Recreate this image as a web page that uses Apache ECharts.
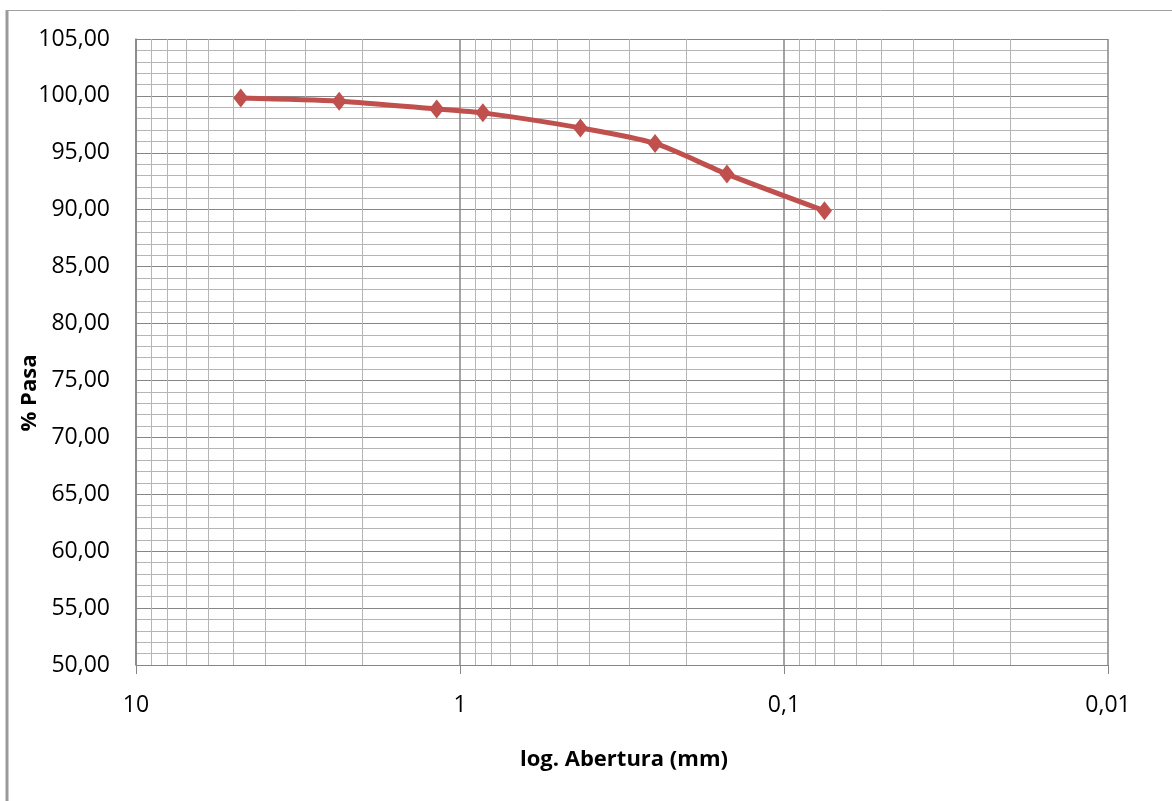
<!DOCTYPE html>
<html>
<head>
<meta charset="utf-8">
<script src="https://cdn.jsdelivr.net/npm/echarts@6/dist/echarts.min.js"></script>
<style>
    html, body { margin: 0; padding: 0; background: #fff; }
    #chart { width: 1172px; height: 801px; }
</style>
</head>
<body>
<div id="chart"></div>
<script>
// sieve openings (mm) and percent passing
const aberturas = [4.75, 2.36, 1.18, 0.85, 0.425, 0.25, 0.15, 0.075];
const pasa = [99.82, 99.54, 98.86, 98.51, 97.19, 95.82, 93.13, 89.91];

const xTicks = [10, 1, 0.1, 0.01];
const xTickLabels = ['10', '1', '0,1', '0,01'];
// log minor gridlines (2..9 of each decade)
const xMinorGrid = [9, 8, 7, 6, 5, 4, 3, 2,
    0.9, 0.8, 0.7, 0.6, 0.5, 0.4, 0.3, 0.2,
    0.09, 0.08, 0.07, 0.06, 0.05, 0.04, 0.03, 0.02];
const yMin = 50, yMax = 105, yStep = 5;

const font = '"Open Sans", "Noto Sans", sans-serif';
const major = '#868686';
const minor = '#b5b5b5';

let mycharts = echarts.init(document.getElementById('chart'));
let option = {
    animation: false,
    grid: {
        left: 136,
        right: 64,
        top: 39,
        bottom: 136
    },
    xAxis: {
        type: 'log',
        logBase: 10,
        min: 0.01,
        max: 10,
        inverse: true,
        axisLine: { show: true, lineStyle: { color: major, width: 1 } },
        axisTick: { show: true, length: 9, lineStyle: { color: major } },
        axisLabel: {
            margin: 29,
            fontFamily: font,
            fontSize: 23,
            color: '#000',
            formatter: function (v) {
                for (let i = 0; i < xTicks.length; i++) {
                    if (Math.abs(Math.log10(v) - Math.log10(xTicks[i])) < 1e-6) return xTickLabels[i];
                }
                return '';
            }
        },
        splitLine: { show: true, lineStyle: { color: major, width: 1.5 } }
    },
    yAxis: {
        type: 'value',
        min: yMin,
        max: yMax,
        interval: yStep,
        axisLine: { show: true, lineStyle: { color: major, width: 1.5 } },
        axisTick: { show: false },
        axisLabel: {
            margin: 26,
            fontFamily: font,
            fontSize: 23,
            color: '#000',
            formatter: function (v) {
                return v.toFixed(2).replace('.', ',');
            }
        },
        splitLine: { show: true, lineStyle: { color: major, width: 1.2 } },
        minorTick: { show: false, splitNumber: 5 },
        minorSplitLine: { show: true, lineStyle: { color: minor, width: 1 } }
    },
    graphic: [
        { type: 'line', shape: { x1: 7, y1: 10, x2: 7, y2: 801 }, style: { stroke: '#9a9a9a', lineWidth: 3 } },
        { type: 'line', shape: { x1: 6, y1: 10.5, x2: 1172, y2: 10.5 }, style: { stroke: '#a0a0a0', lineWidth: 1 } },
        {
            type: 'text', x: 624, y: 760,
            style: {
                text: 'log. Abertura (mm)', fontFamily: font, fontWeight: 'bold', fontSize: 22,
                fill: '#000', align: 'center', verticalAlign: 'middle'
            }
        },
        {
            type: 'text', x: 30, y: 393, rotation: Math.PI / 2,
            style: {
                text: '% Pasa', fontFamily: font, fontWeight: 'bold', fontSize: 22,
                fill: '#000', align: 'center', verticalAlign: 'middle'
            }
        }
    ],
    series: [
        {
            name: 'minor',
            type: 'line',
            data: [],
            silent: true,
            z: 1,
            markLine: {
                silent: true,
                symbol: ['none', 'none'],
                label: { show: false },
                lineStyle: { color: minor, width: 1, type: 'solid' },
                data: xMinorGrid.map(function (v) { return { xAxis: v }; })
            }
        },
        {
            name: '% Pasa',
            type: 'line',
            z: 5,
            smooth: 0.25,
            data: aberturas.map(function (a, i) { return [a, pasa[i]]; }),
            symbol: 'diamond',
            symbolSize: [15, 19],
            lineStyle: { color: '#c0504d', width: 5 },
            itemStyle: { color: '#c0504d' }
        }
    ]
};
mycharts.setOption(option);
window.addEventListener('resize', function () {
    mycharts.resize();
});
</script>
</body>
</html>
